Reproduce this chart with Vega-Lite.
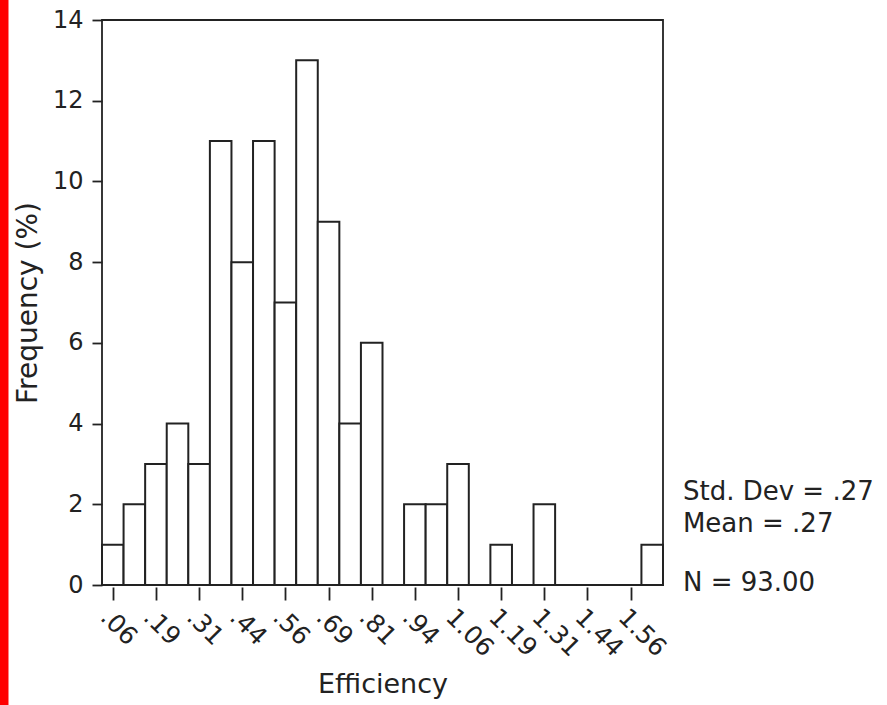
{
  "$schema": "https://vega.github.io/schema/vega-lite/v6.json",
  "width": 561,
  "height": 565,
  "autosize": {"type": "none"},
  "padding": {"left": 102, "top": 20, "right": 224, "bottom": 120},
  "background": "white",
  "config": {
    "view": {"stroke": "#222222", "strokeWidth": 1.8},
    "font": "DejaVu Sans",
    "text": {"font": "DejaVu Sans"}
  },
  "datasets": {
    "bins": [
      {"bin_start": 0.03125, "bin_end": 0.09375, "frequency": 1},
      {"bin_start": 0.09375, "bin_end": 0.15625, "frequency": 2},
      {"bin_start": 0.15625, "bin_end": 0.21875, "frequency": 3},
      {"bin_start": 0.21875, "bin_end": 0.28125, "frequency": 4},
      {"bin_start": 0.28125, "bin_end": 0.34375, "frequency": 3},
      {"bin_start": 0.34375, "bin_end": 0.40625, "frequency": 11},
      {"bin_start": 0.40625, "bin_end": 0.46875, "frequency": 8},
      {"bin_start": 0.46875, "bin_end": 0.53125, "frequency": 11},
      {"bin_start": 0.53125, "bin_end": 0.59375, "frequency": 7},
      {"bin_start": 0.59375, "bin_end": 0.65625, "frequency": 13},
      {"bin_start": 0.65625, "bin_end": 0.71875, "frequency": 9},
      {"bin_start": 0.71875, "bin_end": 0.78125, "frequency": 4},
      {"bin_start": 0.78125, "bin_end": 0.84375, "frequency": 6},
      {"bin_start": 0.84375, "bin_end": 0.90625, "frequency": 0},
      {"bin_start": 0.90625, "bin_end": 0.96875, "frequency": 2},
      {"bin_start": 0.96875, "bin_end": 1.03125, "frequency": 2},
      {"bin_start": 1.03125, "bin_end": 1.09375, "frequency": 3},
      {"bin_start": 1.09375, "bin_end": 1.15625, "frequency": 0},
      {"bin_start": 1.15625, "bin_end": 1.21875, "frequency": 1},
      {"bin_start": 1.21875, "bin_end": 1.28125, "frequency": 0},
      {"bin_start": 1.28125, "bin_end": 1.34375, "frequency": 2},
      {"bin_start": 1.34375, "bin_end": 1.40625, "frequency": 0},
      {"bin_start": 1.40625, "bin_end": 1.46875, "frequency": 0},
      {"bin_start": 1.46875, "bin_end": 1.53125, "frequency": 0},
      {"bin_start": 1.53125, "bin_end": 1.59375, "frequency": 0},
      {"bin_start": 1.59375, "bin_end": 1.65625, "frequency": 1}
    ],
    "stats": [
      {"line": "Std. Dev = .27"},
      {"line": "Mean = .27"},
      {"line": "N = 93.00"}
    ]
  },
  "layer": [
    {
      "data": {"name": "bins"},
      "mark": {"type": "bar", "fill": "white", "stroke": "#222222", "strokeWidth": 2},
      "encoding": {
        "x": {
          "field": "bin_start",
          "type": "quantitative",
          "scale": {"domain": [0.03125, 1.65625], "nice": false, "zero": false},
          "axis": {
            "title": "Efficiency",
            "values": [0.0625, 0.1875, 0.3125, 0.4375, 0.5625, 0.6875, 0.8125, 0.9375, 1.0625, 1.1875, 1.3125, 1.4375, 1.5625],
            "labelExpr": "datum.value < 1 ? substring(format(datum.value - 0.001, '.2f'), 1) : format(datum.value - 0.001, '.2f')",
            "labelOverlap": false,
            "domain": false,
            "grid": false,
            "offset": 2,
            "tickSize": 13,
            "tickColor": "#222222",
            "tickWidth": 1.8,
            "labelAngle": 45,
            "labelAlign": "left",
            "labelBaseline": "top",
            "labelPadding": 4,
            "labelFontSize": 25,
            "labelColor": "#222222",
            "labelFont": "DejaVu Sans",
            "titleFont": "DejaVu Sans",
            "titleFontSize": 27,
            "titleFontWeight": "normal",
            "titleColor": "#222222",
            "titlePadding": 10
          }
        },
        "x2": {"field": "bin_end"},
        "y": {
          "field": "frequency",
          "type": "quantitative",
          "scale": {"domain": [0, 14], "nice": false},
          "axis": {
            "title": "Frequency (%)",
            "values": [0, 2, 4, 6, 8, 10, 12, 14],
            "labelOverlap": false,
            "domain": false,
            "grid": false,
            "tickSize": 10,
            "tickColor": "#222222",
            "tickWidth": 1.8,
            "labelPadding": 9,
            "labelFontSize": 24,
            "labelColor": "#222222",
            "labelFont": "DejaVu Sans",
            "titleFont": "DejaVu Sans",
            "titleFontSize": 28,
            "titleFontWeight": "normal",
            "titleColor": "#222222",
            "titlePadding": 10
          }
        },
        "y2": {"datum": 0}
      }
    },
    {
      "data": {"name": "stats"},
      "transform": [{"filter": "datum.line == 'Std. Dev = .27'"}],
      "mark": {"type": "text", "align": "left", "baseline": "alphabetic", "fontSize": 26, "color": "#222222"},
      "encoding": {"x": {"datum": 1.714}, "y": {"datum": 2.106}, "text": {"field": "line"}}
    },
    {
      "data": {"name": "stats"},
      "transform": [{"filter": "datum.line == 'Mean = .27'"}],
      "mark": {"type": "text", "align": "left", "baseline": "alphabetic", "fontSize": 26, "color": "#222222"},
      "encoding": {"x": {"datum": 1.714}, "y": {"datum": 1.313}, "text": {"field": "line"}}
    },
    {
      "data": {"name": "stats"},
      "transform": [{"filter": "datum.line == 'N = 93.00'"}],
      "mark": {"type": "text", "align": "left", "baseline": "alphabetic", "fontSize": 26, "color": "#222222"},
      "encoding": {"x": {"datum": 1.714}, "y": {"datum": -0.149}, "text": {"field": "line"}}
    },
    {
      "data": {"values": [{"strip": "edge"}]},
      "mark": {"type": "rect", "fill": "#ff0000", "clip": false},
      "encoding": {"x": {"datum": -0.27}, "x2": {"datum": -0.2396}, "y": {"datum": 14.6}, "y2": {"datum": -3.1}}
    }
  ]
}
